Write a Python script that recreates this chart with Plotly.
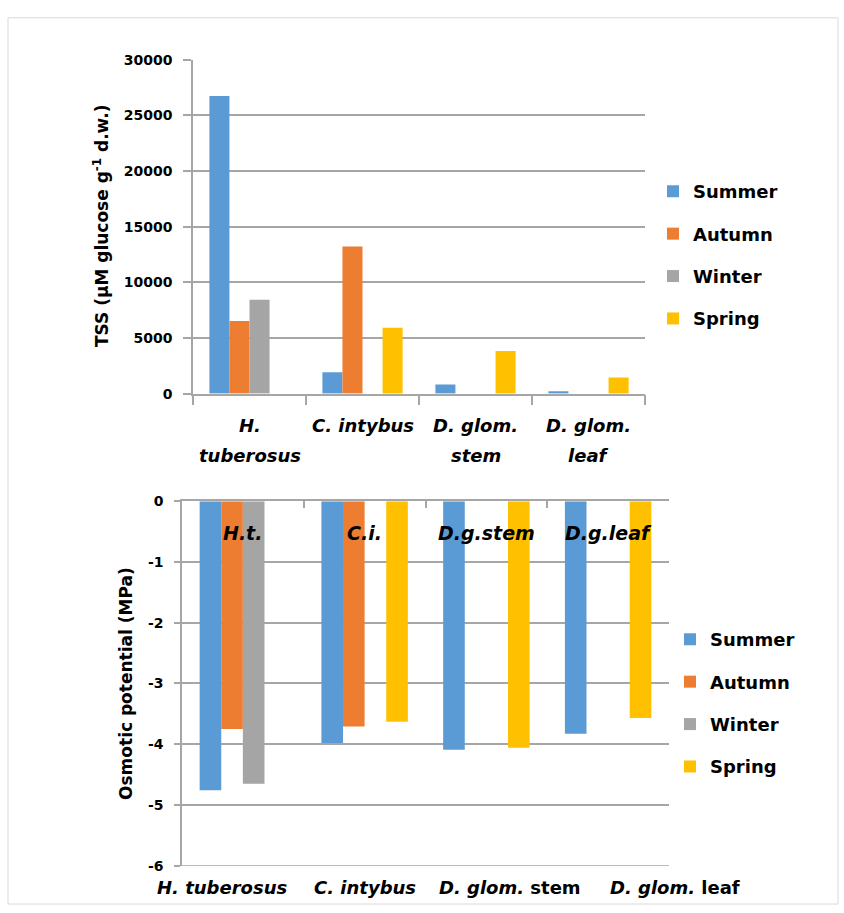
import plotly.graph_objects as go

# ---- data -------------------------------------------------------------
species = ["H. tuberosus", "C. intybus", "D. glom. stem", "D. glom. leaf"]
seasons = ["Summer", "Autumn", "Winter", "Spring"]
colors = ["#5B9BD5", "#ED7D31", "#A5A5A5", "#FFC000"]

# total soluble sugars (µM glucose g-1 d.w.), one list per season
tss_summer = [26750, 1920, 820, 210]
tss_autumn = [6530, 13230, None, None]
tss_winter = [8440, None, None, None]
tss_spring = [None, 5910, 3830, 1440]

# osmotic potential (MPa), one list per season
op_summer = [-4.76, -3.98, -4.09, -3.83]
op_autumn = [-3.75, -3.71, None, None]
op_winter = [-4.65, None, None, None]
op_spring = [None, -3.63, -4.06, -3.57]

tss_label_lines = [["H.", "tuberosus"], ["C. intybus"], ["D. glom.", "stem"], ["D. glom.", "leaf"]]
op_short_labels = ["H.t.", "C.i.", "D.g.stem", "D.g.leaf"]
op_long_labels = ["<i>H. tuberosus</i>", "<i>C. intybus</i>", "<i>D. glom.</i> stem", "<i>D. glom.</i> leaf"]

tss_ticks = [0, 5000, 10000, 15000, 20000, 25000, 30000]
op_ticks = [0, -1, -2, -3, -4, -5, -6]

# ---- layout helpers -----------------------------------------------------
W, H = 844, 913
FONT = "DejaVu Sans"
GRID = "#A6A6A6"


def px(x):
    return x / W


def py(y):
    return 1 - y / H


fig = go.Figure()

tss_series = [tss_summer, tss_autumn, tss_winter, tss_spring]
op_series = [op_summer, op_autumn, op_winter, op_spring]

for name, col, vals in zip(seasons, colors, tss_series):
    fig.add_trace(go.Bar(x=species, y=vals, name=name, marker=dict(color=col, line=dict(width=0)),
                         xaxis="x", yaxis="y", legend="legend", legendgroup="t" + name))
for name, col, vals in zip(seasons, colors, op_series):
    fig.add_trace(go.Bar(x=species, y=vals, name=name, marker=dict(color=col, line=dict(width=0)),
                         xaxis="x2", yaxis="y2", legend="legend2", legendgroup="o" + name))

tick_font = dict(family=FONT, size=14, color="black", weight="bold")
label_font = dict(family=FONT, size=18, color="black", weight="bold")

legend_common = dict(font=dict(family=FONT, size=18, color="black", weight="bold"),
                     traceorder="grouped", tracegroupgap=16, bgcolor="rgba(0,0,0,0)", borderwidth=0,
                     xanchor="left", yanchor="top")

fig.update_layout(
    width=W, height=H, autosize=False,
    margin=dict(l=0, r=0, t=0, b=0),
    paper_bgcolor="white", plot_bgcolor="white",
    barmode="group", bargap=0.29, bargroupgap=0,
    xaxis=dict(domain=[px(193), px(645)], anchor="y", type="category",
               categoryorder="array", categoryarray=species, range=[-0.5, 3.5],
               showline=True, linecolor=GRID, linewidth=1.5,
               ticks="outside", tickson="boundaries", ticklen=10, tickcolor=GRID, tickwidth=1.5,
               showticklabels=False, showgrid=False),
    yaxis=dict(domain=[py(392.5), py(52.7)], anchor="x", range=[0, 30000],
               tickvals=tss_ticks, ticktext=[str(v) for v in tss_ticks],
               showline=True, linecolor=GRID, linewidth=1.5,
               ticks="outside", ticklen=8, tickcolor=GRID, tickwidth=1.5,
               showgrid=True, gridcolor=GRID, gridwidth=1.5, zeroline=False,
               tickfont=tick_font, ticklabelstandoff=8),
    xaxis2=dict(domain=[px(182), px(669)], anchor="y2", side="top", type="category",
                categoryorder="array", categoryarray=species, range=[-0.5, 3.5],
                showline=True, linecolor=GRID, linewidth=1.5,
                ticks="inside", tickson="boundaries", ticklen=7, tickcolor=GRID, tickwidth=1.5,
                showticklabels=False, showgrid=False),
    yaxis2=dict(domain=[py(873), py(502)], anchor="x2", range=[-6, 0],
                tickvals=op_ticks, ticktext=[str(v) for v in op_ticks],
                showline=True, linecolor=GRID, linewidth=1.5,
                ticks="outside", ticklen=6, tickcolor=GRID, tickwidth=1.5,
                showgrid=True, gridcolor=GRID, gridwidth=1.5, zeroline=False,
                tickfont=tick_font, ticklabelstandoff=8),
    legend=dict(x=px(653), y=py(168), **legend_common),
    legend2=dict(x=px(670), y=py(624), **legend_common),
)

annotations = []

# category labels under the sugar chart
for cat, lines in zip(species, tss_label_lines):
    for i, line in enumerate(lines):
        annotations.append(dict(x=cat, xref="x", y=py(425 + 30 * i), yref="paper",
                                text="<i>%s</i>" % line, showarrow=False,
                                xanchor="center", yanchor="middle", font=label_font))

# short labels inside the osmotic-potential chart
for cat, lab in zip(species, op_short_labels):
    annotations.append(dict(x=cat, xref="x2", y=-0.53, yref="y2", text="<i>%s</i>" % lab,
                            showarrow=False, xanchor="center", yanchor="middle",
                            font=dict(family=FONT, size=19, color="black", weight="bold")))

# full names along the bottom of the osmotic-potential chart
for left, lab in zip([155, 312, 437, 608], op_long_labels):
    annotations.append(dict(x=px(left), xref="paper", y=py(895), yref="paper", text=lab,
                            showarrow=False, xanchor="left", yanchor="middle", font=label_font))

# axis titles
annotations.append(dict(x=px(101), xref="paper", y=py(222), yref="paper",
                        text="TSS (µM glucose g<sup>-1</sup> d.w.)", textangle=-90,
                        showarrow=False, xanchor="center", yanchor="middle",
                        font=dict(family=FONT, size=17, color="black", weight="bold")))
annotations.append(dict(x=px(126), xref="paper", y=py(687), yref="paper",
                        text="Osmotic potential (MPa)", textangle=-90,
                        showarrow=False, xanchor="center", yanchor="middle",
                        font=dict(family=FONT, size=17, color="black", weight="bold")))

fig.update_layout(annotations=annotations)

# gridline along the lowest tick of the osmotic-potential chart
fig.add_shape(type="line", xref="x2 domain", x0=0, x1=1, yref="y2", y0=op_ticks[-1], y1=op_ticks[-1],
              line=dict(color=GRID, width=1.5), layer="below")

# light frame around the whole chart
fig.add_shape(type="rect", xref="paper", yref="paper", x0=px(8), x1=px(838), y0=py(912), y1=py(10),
              line=dict(color="#D9D9D9", width=1), fillcolor="rgba(0,0,0,0)", layer="below")

fig.write_html("out.html")
